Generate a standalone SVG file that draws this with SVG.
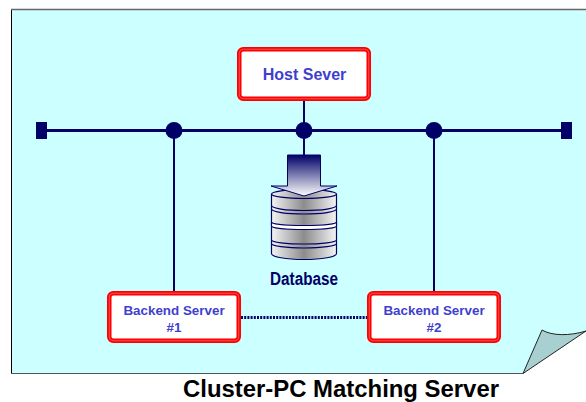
<svg xmlns="http://www.w3.org/2000/svg" width="586" height="402" viewBox="0 0 586 402">
<style>
.box{fill:#fff;stroke:#f00;stroke-width:4.500}
.boxo{fill:none;stroke:#ff7070;stroke-width:0.700}
.t{font-family:"Liberation Sans",Arial,sans-serif;font-weight:bold;text-anchor:middle}
.b{fill:#3f3fcf}
.line{stroke:#000066;fill:none}
.arc{stroke:#000066;stroke-width:1.200;fill:none}
</style>
<defs>
<linearGradient id="cyl" x1="0" x2="1" y1="0" y2="0"><stop offset="0" stop-color="#f4f4f4"/><stop offset="0.5" stop-color="#8c8c8c"/><stop offset="1" stop-color="#f4f4f4"/></linearGradient>
<linearGradient id="arr" x1="0" x2="0" y1="0" y2="1"><stop offset="0" stop-color="#000066"/><stop offset="1" stop-color="#ffffff"/></linearGradient>
</defs>
<g id="panel">
<path d="M11.500 9.500H586V331C570 336 552 336 542 330L523 373.500H11.500Z" fill="#ccffff"/>
<path d="M11.500 374V9.500" stroke="#000" stroke-width="1" fill="none"/>
<path d="M11 9.500H586" stroke="#666" stroke-width="1.500" fill="none"/>
<path d="M11 373.500H523" stroke="#555" stroke-width="1" fill="none"/>
<path d="M523 373.500L542 330C552 336 570 336 586 331Z" fill="#a8d0d0" stroke="#222" stroke-width="1"/>
</g>
<g id="connectors">
<path class="line" stroke-width="3" d="M41 130.500H567"/>
<path class="line" stroke-width="2" d="M304 101V155M174 130V291M434 130V291"/>
<path class="line" stroke-width="3" stroke-dasharray="2 1.200" d="M241 317.500H367"/>
<rect x="36" y="122" width="11" height="17" fill="#000066"/>
<rect x="561" y="122" width="11" height="17" fill="#000066"/>
<circle cx="174" cy="130.500" r="8.500" fill="#000066"/>
<circle cx="304" cy="130.500" r="8.500" fill="#000066"/>
<circle cx="434" cy="130.500" r="8.500" fill="#000066"/>
</g>
<g id="database">
<path d="M271.500 194A32.500 4.500 0 0 1 336.500 194V253.500A32.500 6 0 0 1 271.500 253.500Z" fill="url(#cyl)" stroke="#000066" stroke-width="1.200"/>
<path d="M271.500 222A32.500 3.500 0 0 0 336.500 222V226A32.500 3.500 0 0 1 271.500 226Z" fill="#fff" stroke="#000066" stroke-width="1.200"/>
<path class="arc" d="M271.500 194A32.500 4.500 0 0 0 336.500 194M271.500 205.500A32.500 5 0 0 0 336.500 205.500M271.500 209A32.500 5 0 0 0 336.500 209M271.500 240A32.500 4 0 0 0 336.500 240M271.500 243.500A32.500 4.500 0 0 0 336.500 243.500"/>
<path d="M287.500 155H320.500V186L337 186L304 196L271 186L287.500 186Z" fill="url(#arr)" stroke="#000066" stroke-width="1"/>
<text class="t" x="304" y="284.500" font-size="18" fill="#000066" textLength="68" lengthAdjust="spacingAndGlyphs">Database</text>
</g>
<g id="host">
<rect class="box" x="239.250" y="49.250" width="129.500" height="49.500" rx="4"/>
<rect class="boxo" x="239.250" y="49.250" width="129.500" height="49.500" rx="4"/>
<text class="t b" x="304.500" y="80" font-size="16">Host Sever</text>
</g>
<g id="backend1">
<rect class="box" x="109.250" y="293.250" width="129.500" height="47.500" rx="4"/>
<rect class="boxo" x="109.250" y="293.250" width="129.500" height="47.500" rx="4"/>
<text class="t b" x="174" y="315" font-size="13.400">Backend Server</text>
<text class="t b" x="174" y="332" font-size="13.400">#1</text>
</g>
<g id="backend2">
<rect class="box" x="369.250" y="293.250" width="129.500" height="47.500" rx="4"/>
<rect class="boxo" x="369.250" y="293.250" width="129.500" height="47.500" rx="4"/>
<text class="t b" x="434" y="315" font-size="13.400">Backend Server</text>
<text class="t b" x="434" y="332" font-size="13.400">#2</text>
</g>
<text id="title" class="t" x="341" y="397" font-size="23" fill="#000" textLength="316" lengthAdjust="spacingAndGlyphs">Cluster-PC Matching Server</text>
</svg>
